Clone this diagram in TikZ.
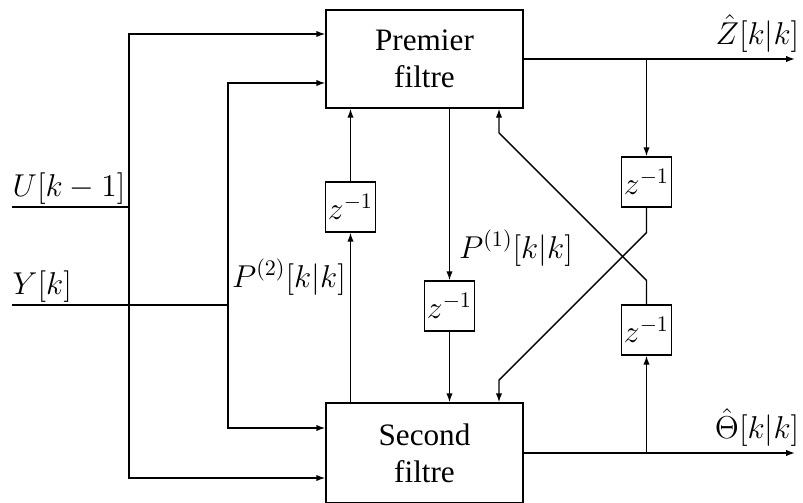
\RequirePackage{fix-cm}
\documentclass[tikz,border=0pt]{standalone}
\usepackage{fontspec}
\newfontfamily\boxfont{Liberation Serif}
\usetikzlibrary{arrows.meta}
\begin{document}
\begin{tikzpicture}[x=0.5pt,y=-0.5pt, line width=0.7pt,
  arr/.style={-{Latex[length=4.5pt,width=3.2pt]}},
  filt/.style={draw, minimum width=98.5pt, inner sep=0pt, align=center,
    font=\boxfont\fontsize{15.6}{18.5}\selectfont},
  zbox/.style={draw, minimum size=25pt, inner sep=0pt, font=\fontsize{15.8}{19}\selectfont},
  lab/.style={inner sep=0pt, font=\fontsize{15.8}{19}\selectfont}]
\useasboundingbox (0,0) rectangle (803,503);

% blocks
\node[filt, minimum height=49pt] (pf) at (424.5,59) {Premier\\filtre};
\node[filt, minimum height=50pt] (sf) at (424.5,453) {Second\\filtre};

% delays
\node[zbox] (zl) at (350.5,207) {$z^{-1}$};
\node[zbox] (zm) at (449.5,306) {$z^{-1}$};
\node[zbox] (zr1) at (646.5,182) {$z^{-1}$};
\node[zbox] (zr2) at (646.5,330) {$z^{-1}$};

% labels
\node[lab, anchor=south west] (ul) at (12,205) {$U[k-1]$};
\node[lab, anchor=south west] (yl) at (12,303) {$Y[k]$};
\node[lab] (p2) at (289,277) {$P^{(2)}[k|k]$};
\node[lab] (p1) at (516,248) {$P^{(1)}[k|k]$};
\node[lab, anchor=south east] (zhat) at (800,53) {$\hat{Z}[k|k]$};
\node[lab, anchor=south east] (thhat) at (800,447) {$\hat{\Theta}[k|k]$};

% coordinates
\coordinate (u0) at (12,207);
\coordinate (uj) at (129,207);
\coordinate (y0) at (12,305);
\coordinate (yj) at (228,305);
\coordinate (zout) at (795,59);
\coordinate (tout) at (795,453);
\coordinate (cr) at (499,250);

% inputs
\draw (u0) -- (uj);
\draw[arr] (uj) |- (pf.west |- 0,34);
\draw[arr] (uj) |- (sf.west |- 0,478);
\draw (y0) -- (yj);
\draw[arr] (yj) |- (pf.west |- 0,83);
\draw[arr] (yj) |- (sf.west |- 0,428);

% P2 path
\draw[arr] (zl |- sf.north) -- (zl.south);
\draw[arr] (zl.north) -- (zl |- pf.south);

% P1 path
\draw[arr] (zm |- pf.south) -- (zm.north);
\draw[arr] (zm.south) -- (zm |- sf.north);

% outputs
\draw[arr] (pf.east) -- (zout);
\draw[arr] (sf.east) -- (tout);
\draw[arr] (zr1 |- pf.east) -- (zr1.north);
\draw[arr] (zr2 |- sf.east) -- (zr2.south);

% crossing
\draw[arr] (zr1.south) -- ++(0,25) -- ++(-147.5,147.5) -- (cr |- sf.north);
\draw[arr] (zr2.north) -- ++(0,-24) -- ++(-147.5,-147.5) -- (cr |- pf.south);
\end{tikzpicture}
\end{document}
